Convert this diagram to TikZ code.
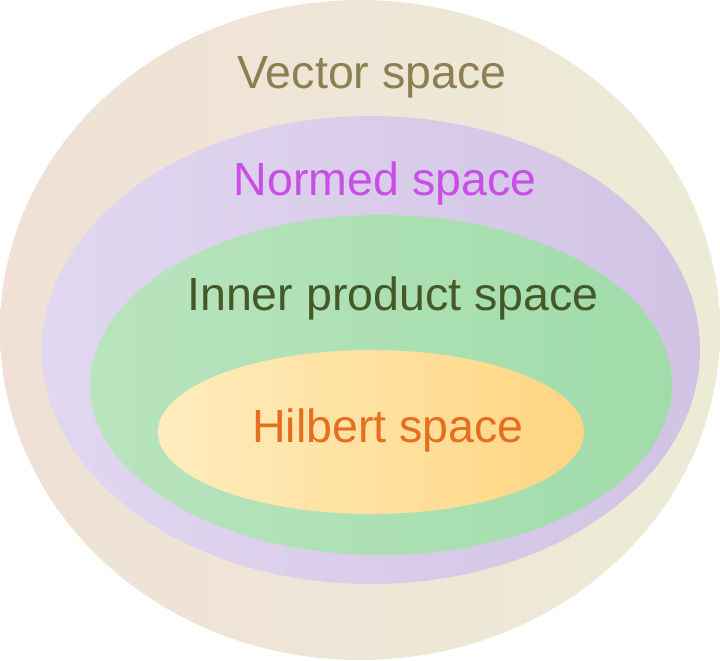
\documentclass[tikz,border=0pt]{standalone}
\usepackage{fontspec}
\setmainfont{Liberation Sans}
\definecolor{vecL}{RGB}{240,224,214}
\definecolor{vecR}{RGB}{236,236,214}
\definecolor{normL}{RGB}{225,215,240}
\definecolor{normR}{RGB}{210,195,228}
\definecolor{innL}{RGB}{185,228,190}
\definecolor{innR}{RGB}{160,220,170}
\definecolor{hilL}{RGB}{255,236,190}
\definecolor{hilR}{RGB}{255,214,130}
\definecolor{vecT}{RGB}{140,128,82}
\definecolor{normT}{RGB}{200,78,230}
\definecolor{innT}{RGB}{70,88,40}
\definecolor{hilT}{RGB}{230,110,30}
\tikzset{spacename/.style={font=\fontsize{26.5}{26.5}\selectfont}}

\begin{document}
\begin{tikzpicture}[x=0.02cm,y=-0.02cm]

\useasboundingbox (0,0) rectangle (720,660);

% nested spaces
\shade[left color=vecL,right color=vecR] (360,330) ellipse [x radius=360,y radius=330];
\shade[left color=normL,right color=normR] (371,350) ellipse [x radius=329,y radius=234];
\shade[left color=innL,right color=innR] (381,385) ellipse [x radius=291,y radius=170];
\shade[left color=hilL,right color=hilR] (371,432) ellipse [x radius=213,y radius=82];

\node[spacename,text=vecT] (vector) at (372,77) {Vector space};
\node[spacename,text=normT] (normed) at (385,183) {Normed space};
\node[spacename,text=innT] (inner) at (393,298) {Inner product space};
\node[spacename,text=hilT] (hilbert) at (388,430) {Hilbert space};

\end{tikzpicture}
\end{document}
